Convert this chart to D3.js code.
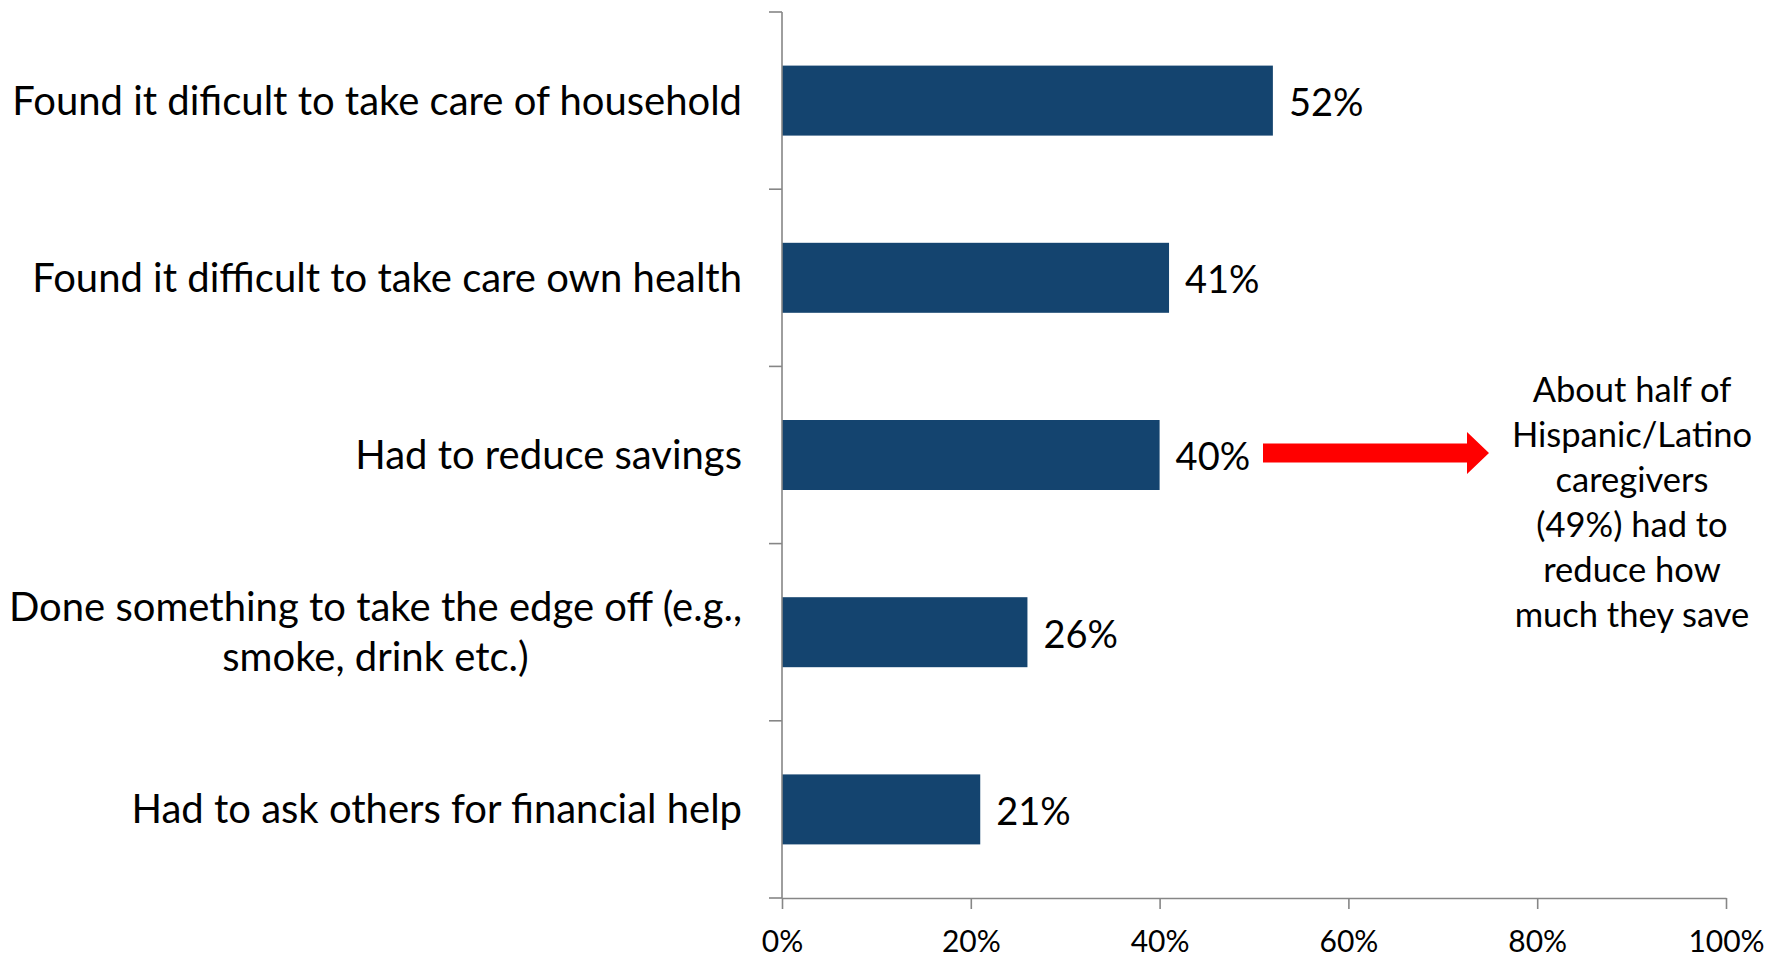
<!DOCTYPE html>
<html>
<head>
<meta charset="utf-8">
<script src="https://cdn.jsdelivr.net/npm/d3@7"></script>
<style>
  html, body { margin: 0; padding: 0; background: #ffffff; }
  svg { display: block; font-family: Lato, "Open Sans", sans-serif; }
</style>
</head>
<body>
<svg id="chart" width="1770" height="957"></svg>
<script>
// Caregiver strain items (each label may span several lines)
const categories = [
  ["Found it dificult to take care of household"],
  ["Found it difficult to take care own health"],
  ["Had to reduce savings"],
  ["Done something to take the edge off (e.g.,", "smoke, drink etc.)"],
  ["Had to ask others for financial help"]
];
const values = [0.52, 0.41, 0.40, 0.26, 0.21];
const xTicks = [0, 0.2, 0.4, 0.6, 0.8, 1.0];
const noteLines = [
  "About half of",
  "Hispanic/Latino",
  "caregivers",
  "(49%) had to",
  "reduce how",
  "much they save"
];

const svg = d3.select("#chart");
const margin = { left: 782, right: 44, top: 12, bottom: 59 };
const W = 1770, H = 957;

const x = d3.scaleLinear().domain([0, 1]).range([margin.left, W - margin.right]);
const y = d3.scaleBand()
  .domain(d3.range(categories.length))
  .range([margin.top, H - margin.bottom])
  .paddingInner(0.605)
  .paddingOuter(0.3025);

const axisColor = "#868686";
const barColor = "#14446F";

// bars
svg.append("g").selectAll("rect")
  .data(values)
  .join("rect")
  .attr("x", x(0))
  .attr("y", (d, i) => y(i))
  .attr("width", d => x(d) - x(0))
  .attr("height", y.bandwidth())
  .attr("fill", barColor);

// value labels
svg.append("g").selectAll("text")
  .data(values)
  .join("text")
  .attr("x", d => x(d) + 16)
  .attr("y", (d, i) => y(i) + y.bandwidth() / 2 + 2)
  .attr("dy", "0.35em")
  .attr("font-size", 38)
  .attr("fill", "#000")
  .text(d => Math.round(d * 100) + "%");

// y axis: line with ticks at band boundaries
const yAxisG = svg.append("g").attr("stroke", axisColor).attr("stroke-width", 1.6);
yAxisG.append("line")
  .attr("x1", x(0)).attr("x2", x(0))
  .attr("y1", margin.top).attr("y2", H - margin.bottom);
const boundaries = d3.range(categories.length + 1).map(i => margin.top + i * y.step());
yAxisG.selectAll("line.tick")
  .data(boundaries)
  .join("line")
  .attr("class", "tick")
  .attr("x1", x(0) - 13).attr("x2", x(0))
  .attr("y1", d => d).attr("y2", d => d);

// x axis
const xAxis = d3.axisBottom(x)
  .tickValues(xTicks)
  .tickFormat(d3.format(".0%"))
  .tickSize(11)
  .tickSizeOuter(0)
  .tickPadding(22);
const xAxisG = svg.append("g")
  .attr("transform", `translate(0,${H - margin.bottom})`)
  .call(xAxis);
xAxisG.select(".domain").attr("stroke", axisColor).attr("stroke-width", 1.6);
xAxisG.selectAll(".tick line").attr("stroke", axisColor).attr("stroke-width", 1.6);
xAxisG.selectAll(".tick text")
  .attr("font-size", 30)
  .attr("font-family", "Lato, 'Open Sans', sans-serif")
  .attr("fill", "#000");

// category labels: block right-aligned, lines centred within the block
const labelRight = x(0) - 40;
const lineGap = 50;
const catG = svg.append("g");
categories.forEach((lines, i) => {
  const cy = y(i) + y.bandwidth() / 2;
  const g = catG.append("g");
  const texts = lines.map((ln, j) => g.append("text")
    .attr("font-size", 40)
    .attr("fill", "#000")
    .attr("text-anchor", "middle")
    .attr("y", cy + (j - (lines.length - 1) / 2) * lineGap)
    .attr("dy", "0.35em")
    .text(ln));
  const blockW = d3.max(texts, t => t.node().getComputedTextLength());
  texts.forEach(t => t.attr("x", labelRight - blockW / 2));
});

// annotation arrow pointing at the note
const ax0 = 1263, ax1 = 1467, ax2 = 1489;
const acy = y(2) + y.bandwidth() / 2 - 2;
const shaftH = 9.5, headH = 21;
svg.append("path")
  .attr("d", `M${ax0},${acy - shaftH} L${ax1},${acy - shaftH} L${ax1},${acy - headH}
              L${ax2},${acy} L${ax1},${acy + headH} L${ax1},${acy + shaftH} L${ax0},${acy + shaftH} Z`)
  .attr("fill", "#FF0000");

// annotation note
svg.append("g").selectAll("text")
  .data(noteLines)
  .join("text")
  .attr("x", 1632)
  .attr("y", (d, i) => 389.5 + i * 45.15)
  .attr("dy", "0.35em")
  .attr("text-anchor", "middle")
  .attr("font-size", 34.5)
  .attr("fill", "#000")
  .text(d => d);
</script>
</body>
</html>
